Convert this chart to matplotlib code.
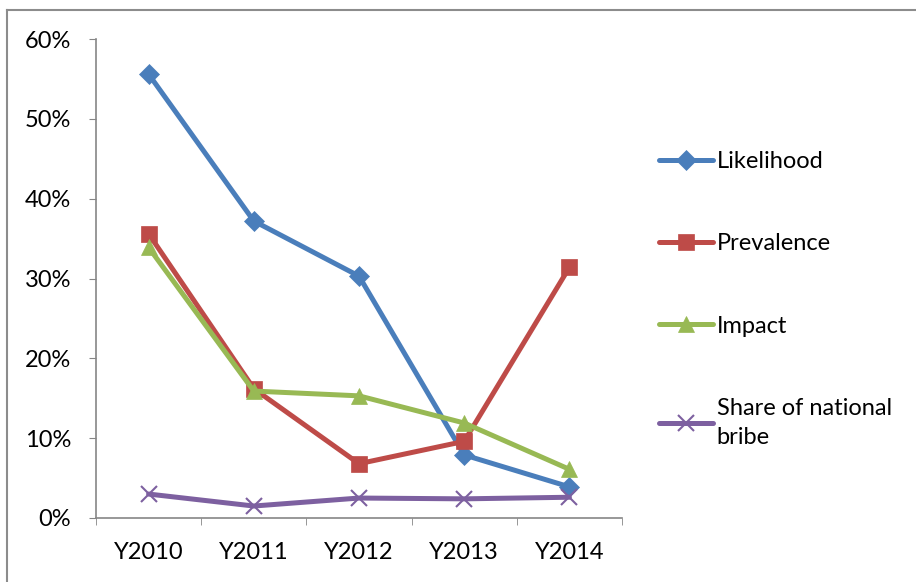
import matplotlib.pyplot as plt
from matplotlib.lines import Line2D
from matplotlib.ticker import FuncFormatter, MultipleLocator

plt.rcParams['font.family'] = ['Lato', 'DejaVu Sans']

years = ["Y2010", "Y2011", "Y2012", "Y2013", "Y2014"]
likelihood = [55.6, 37.2, 30.3, 7.9, 3.9]
prevalence = [35.6, 16.2, 6.8, 9.6, 31.4]
impact = [33.9, 15.9, 15.3, 11.9, 6.1]
share_bribe = [3.0, 1.5, 2.5, 2.4, 2.6]

series = [
    ("Likelihood", likelihood, "#4A7EBB", "D", 10),
    ("Prevalence", prevalence, "#BE4B48", "s", 11),
    ("Impact", impact, "#98B954", "^", 12),
    ("Share of national\nbribe", share_bribe, "#7D60A0", "x", 11),
]

W, H = 916, 582
fig = plt.figure(figsize=(W / 100, H / 100), dpi=100)
ax = fig.add_axes([96 / W, 1 - 518 / H, (622 - 96) / W, (518 - 39) / H])

x = list(range(len(years)))
for label, vals, color, marker, ms in series:
    ax.plot(x, vals, color=color, lw=3.6, marker=marker, markersize=ms,
            markeredgewidth=1.5 if marker == "x" else 0.5,
            markeredgecolor=color, label=label, solid_capstyle="round")

ax.set_xlim(-0.5, 4.5)
ax.set_ylim(0, 60)
ax.yaxis.set_major_locator(MultipleLocator(10))
ax.yaxis.set_major_formatter(FuncFormatter(lambda v, p: f"{v:.0f}%"))
ax.set_xticks(x)
ax.set_xticklabels(years)
ax.set_xticks([i + 0.5 for i in range(-1, 5)], minor=True)
ax.tick_params(axis="x", which="major", length=0, pad=17, labelsize=17)
ax.tick_params(axis="x", which="minor", length=5, color="#868686")
ax.tick_params(axis="y", length=5, color="#868686", labelsize=17, pad=13)
for s in ["top", "right"]:
    ax.spines[s].set_visible(False)
for s in ["left", "bottom"]:
    ax.spines[s].set_color("#868686")
    ax.spines[s].set_linewidth(1.2)

leg = ax.legend(loc="upper left", bbox_to_anchor=(647 / W, 1 - 139 / H),
                bbox_transform=fig.transFigure, frameon=False,
                fontsize=17, handlelength=2.3, handletextpad=0.15,
                labelspacing=2.6, borderpad=0)
for t in leg.get_texts():
    t.set_linespacing(1.5)

# outer chart border
fig.add_artist(Line2D([7 / W, 1], [1 - 10 / H, 1 - 10 / H], color="#8c8c8c", lw=1.5))
fig.add_artist(Line2D([7 / W, 7 / W], [0, 1 - 10 / H], color="#8c8c8c", lw=1.5))

fig.savefig("out.png", dpi=100)
